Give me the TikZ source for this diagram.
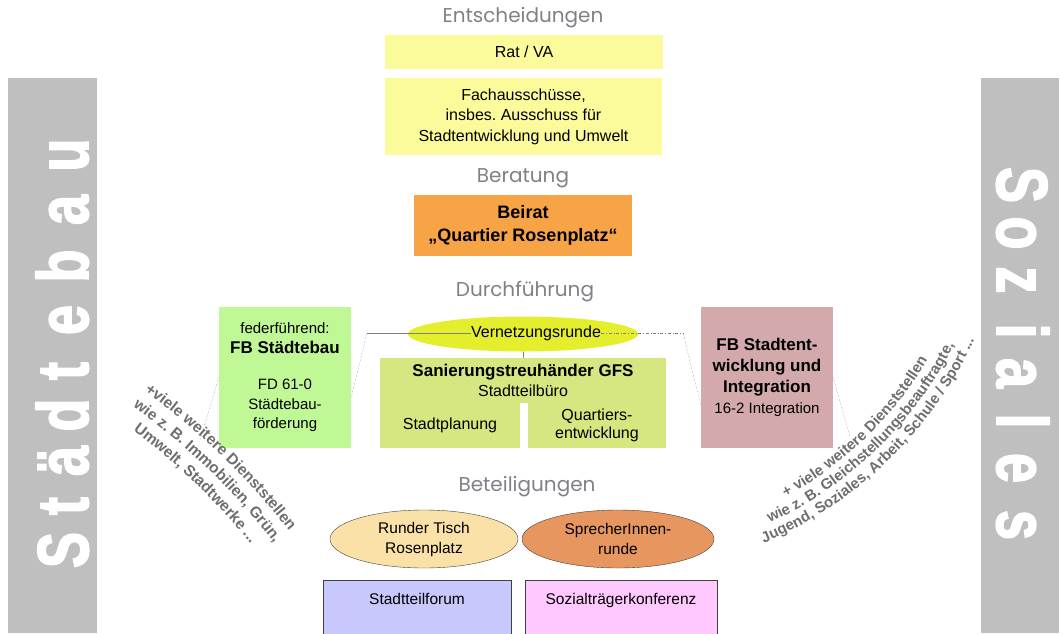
\documentclass[tikz,border=0pt]{standalone}
\usepackage{fontspec}
\setmainfont{Liberation Sans}
\newfontfamily\headfont{Poppins}
\newfontfamily\balkenfont[FakeBold=2.5]{Liberation Sans Bold}
\usetikzlibrary{shapes.geometric,decorations.text}
\frenchspacing

\definecolor{ratgelb}{RGB}{252,251,155}
\definecolor{beiratorange}{RGB}{246,164,70}
\definecolor{vernetzgelb}{RGB}{228,238,45}
\definecolor{gfsgruen}{RGB}{214,230,128}
\definecolor{fbgruen}{RGB}{192,248,150}
\definecolor{fbrosa}{RGB}{211,169,171}
\definecolor{tischgelb}{RGB}{250,225,168}
\definecolor{sprecherorange}{RGB}{231,150,96}
\definecolor{forumblau}{RGB}{200,200,252}
\definecolor{sozialrosa}{RGB}{255,200,255}
\definecolor{balkengrau}{RGB}{191,191,191}
\definecolor{titelgrau}{RGB}{128,128,136}
\definecolor{bogengrau}{RGB}{110,110,110}

\begin{document}
\begin{tikzpicture}[x=1pt, y=-1pt,
		box/.style = {rectangle, inner sep=0pt, align=center, font=\fontsize{16}{20.5}\selectfont},
		titel/.style = {font=\headfont\fontsize{20}{24}\selectfont, text=titelgrau},
		oval/.style = {ellipse, draw=black!75, inner sep=0pt, align=center, font=\fontsize{15.5}{20}\selectfont},
		dotline/.style = {gray, densely dotted, thin},
		letter/.style = {font=\balkenfont\fontsize{72}{72}\selectfont, text=white, anchor=base, inner sep=0pt},
		bogen/.style = {decorate, decoration={text along path, text align=center, text={#1}}},
	]
	\useasboundingbox (0,0) rectangle (1063,633);
	% Seitenbalken
	\fill[balkengrau] (8,78) rectangle (97,633);
	\fill[balkengrau] (981,78) rectangle (1059,633);
	\foreach \ch/\y [count=\i] in {S/550, t/506, ä/461, d/415, t/371, e/320, b/266, a/210, u/155}
		\node[letter, rotate=90, xscale=0.75] (lst\i) at (88,\y) {\ch};
	\foreach \ch/\y [count=\i] in {S/185, o/233, z/280, i/331, a/373, l/421, e/468, s/525}
		\node[letter, rotate=-90, xscale=0.75] (rso\i) at (997,\y) {\ch};

	% Entscheidungen
	\node[titel] (tent) at (523,18) {Entscheidungen};
	\node[box, fill=ratgelb, minimum width=278pt, minimum height=34pt] (rat) at (524,52) {Rat / VA};
	\node[box, fill=ratgelb, minimum width=277pt, minimum height=77pt] (fach) at (523.5,116.5) {Fachausschüsse,\\insbes. Ausschuss für\\Stadtentwicklung und Umwelt};

	% Beratung
	\node[titel] (tber) at (523,178) {Beratung};
	\node[box, fill=beiratorange, minimum width=218pt, minimum height=61pt, font=\fontsize{18}{23}\bfseries\selectfont] (beirat) at (523,225.5) {Beirat\\„Quartier Rosenplatz“};

	% Durchfuehrung
	\node[titel] (tdur) at (525,292) {Durchführung};
	\node[ellipse, fill=vernetzgelb, minimum width=230pt, minimum height=35pt, inner sep=0pt] (vern) at (523,334) {};
	\node[box] (verntxt) at (536,333) {Vernetzungsrunde};
	\node[box, fill=gfsgruen, minimum width=286pt, minimum height=45pt] (san) at (523,380.5) {{\bfseries\fontsize{17}{20}\selectfont Sanierungstreuhänder GFS}\\Stadtteilbüro};
	\node[box, fill=gfsgruen, minimum width=140pt, minimum height=45pt] (stpl) at (450,425.5) {Stadtplanung};
	\node[box, fill=gfsgruen, minimum width=138pt, minimum height=45pt, font=\fontsize{16}{18}\selectfont] (qent) at (597,425.5) {Quartiers-\\entwicklung};
	\node[box, fill=fbgruen, minimum width=132pt, minimum height=141pt, font=\fontsize{15}{19.5}\selectfont] (fbst) at (285,377.5) {federführend:\\{\bfseries\fontsize{17}{20}\selectfont FB Städtebau}\\[17pt]FD 61-0\\Städtebau-\\förderung};
	\node[box, fill=fbrosa, minimum width=132pt, minimum height=141pt, font=\fontsize{17}{21}\bfseries\selectfont] (fbsi) at (767,377.5) {FB Stadtent-\\wicklung und\\Integration\\{\mdseries\fontsize{15}{18}\selectfont 16-2 Integration}};

	\coordinate (knickL) at (367,333);
	\coordinate (knickR) at (683,333);
	\coordinate (restL) at (200,440);
	\coordinate (restR) at (850,437);
	\draw[gray] (knickL) -- (verntxt.west);
	\draw[dotline] (knickL) -- ([yshift=-20pt]fbst.east);
	\draw[gray, dash dot, thin] (verntxt.east) -- (knickR);
	\draw[dotline] (knickR) -- ([yshift=-28pt]fbsi.west);
	\draw[gray] (vern.south) -- (vern.south |- san.north);
	\draw[dotline] (fbst.west) -- (restL);
	\draw[dotline] (fbsi.east) -- (restR);

	% weitere Dienststellen
	\path[bogen={|\fontsize{15.5}{15.5}\bfseries\color{bogengrau}|+viele weitere Dienststellen}] (-261,956) ++(-62:695) arc[start angle=-62, end angle=-30, radius=695];
	\path[bogen={|\fontsize{15.5}{15.5}\bfseries\color{bogengrau}|wie z. B. Immobilien, Grün,}] (-261,956) ++(-62:676) arc[start angle=-62, end angle=-30, radius=676];
	\path[bogen={|\fontsize{15.5}{15.5}\bfseries\color{bogengrau}|Umwelt, Stadtwerke ...}] (-261,956) ++(-62:657) arc[start angle=-62, end angle=-30, radius=657];
	\path[bogen={|\fontsize{15}{15}\bfseries\color{bogengrau}|+ viele weitere Dienststellen}] (606,169) ++(82:374) arc[start angle=82, end angle=10, radius=374];
	\path[bogen={|\fontsize{15}{15}\bfseries\color{bogengrau}|wie z. B. Gleichstellungsbeauftragte,}] (606,169) ++(82:390) arc[start angle=82, end angle=10, radius=390];
	\path[bogen={|\fontsize{15}{15}\bfseries\color{bogengrau}|Jugend, Soziales, Arbeit, Schule / Sport ...}] (606,169) ++(82:406) arc[start angle=82, end angle=10, radius=406];

	% Beteiligungen
	\node[titel] (tbet) at (527,487) {Beteiligungen};
	\node[oval, fill=tischgelb, minimum width=188pt, minimum height=58pt] (tisch) at (424,539) {Runder Tisch\\Rosenplatz};
	\node[oval, fill=sprecherorange, minimum width=192pt, minimum height=58pt] (sprech) at (618,539) {SprecherInnen-\\runde};
	\node[box, draw=black!75, fill=forumblau, minimum width=188pt, text height=24pt, text depth=36pt, font=\fontsize{15.5}{20}\selectfont] (forum) at (417,580) [anchor=north] {Stadtteilforum};
	\node[box, draw=black!75, fill=sozialrosa, minimum width=192pt, text height=24pt, text depth=36pt, font=\fontsize{15.5}{20}\selectfont] (sozk) at (621,580) [anchor=north] {Sozialträgerkonferenz};
\end{tikzpicture}
\end{document}
